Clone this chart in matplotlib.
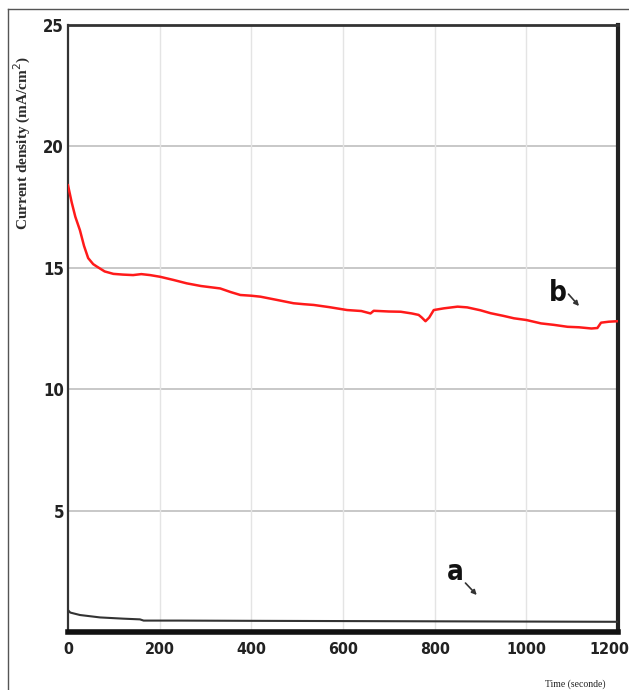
import matplotlib
matplotlib.use("Agg")
import matplotlib.pyplot as plt
import matplotlib.transforms as mtransforms
from matplotlib.lines import Line2D

# Chronoamperometry curves: time in seconds, current density in mA/cm2
b_time = [0, 8, 16, 26, 35, 44, 55, 63, 80, 99, 120, 142, 160, 179, 201, 230,
          259, 290, 332, 355, 376, 400, 420, 455, 492, 515, 536, 570, 609, 640,
          660, 667, 700, 726, 750, 765, 772, 780, 788, 798, 820, 850, 871, 900,
          922, 950, 973, 1000, 1032, 1060, 1090, 1115, 1142, 1155, 1163, 1180, 1199]
b_current = [18.4, 17.7, 17.1, 16.55, 15.9, 15.4, 15.15, 15.05, 14.85, 14.75,
             14.72, 14.70, 14.74, 14.70, 14.63, 14.5, 14.36, 14.25, 14.15, 14.0,
             13.88, 13.85, 13.81, 13.68, 13.54, 13.5, 13.47, 13.38, 13.26, 13.22,
             13.12, 13.23, 13.2, 13.19, 13.12, 13.06, 12.95, 12.8, 12.95, 13.26,
             13.33, 13.40, 13.37, 13.25, 13.13, 13.02, 12.92, 12.85, 12.71, 12.65,
             12.57, 12.55, 12.50, 12.52, 12.74, 12.78, 12.8]

a_time = [0, 5, 26, 70, 120, 157, 165, 240, 400, 600, 800, 1000, 1200]
a_current = [0.9, 0.8, 0.7, 0.6, 0.55, 0.52, 0.47, 0.47, 0.46, 0.45, 0.44, 0.43, 0.42]

x_ticks = [0, 200, 400, 600, 800, 1000, 1200]
y_ticks = [5, 10, 15, 20, 25]

tick_font = ["DejaVu Sans"]

fig = plt.figure(figsize=(6.29, 6.90), dpi=100)
ax = fig.add_axes([68 / 629, 1 - 632 / 690, 550 / 629, 607 / 690])

# grid first so the curves sit on top
for y in [5, 10, 15, 20]:
    ax.axhline(y, color="#c4c4c4", lw=1.3, zorder=0)
for x in [200, 400, 600, 800, 1000]:
    ax.axvline(x, color="#e4e4e4", lw=1.0, zorder=0)

ax.plot(b_time, b_current, color="#ff1a1a", lw=1.8, zorder=3)
ax.plot(a_time, a_current, color="#333333", lw=1.5, zorder=3)

ax.set_xlim(0, 1200)
ax.set_ylim(0, 25)
ax.set_xticks(x_ticks)
ax.set_yticks(y_ticks)
ax.tick_params(axis="both", length=0)
ax.tick_params(axis="y", pad=3)
ax.tick_params(axis="x", pad=7)
for lab in ax.get_xticklabels() + ax.get_yticklabels():
    lab.set_family(tick_font)
    lab.set_stretch("condensed")
    lab.set_fontsize(12)
    lab.set_fontweight("bold")
    lab.set_color("#222222")
for lab in ax.get_xticklabels():
    lab.set_fontsize(11.5)

# pull the last x label in a little so it stays on the canvas
last = ax.get_xticklabels()[-1]
last.set_transform(last.get_transform() +
                   mtransforms.ScaledTranslation(-9 / 100, 0, fig.dpi_scale_trans))

ax.spines["left"].set_linewidth(1.6)
ax.spines["left"].set_color("#333333")
ax.spines["top"].set_linewidth(2.0)
ax.spines["top"].set_color("#333333")
ax.spines["right"].set_linewidth(3.0)
ax.spines["right"].set_color("#222222")
ax.spines["bottom"].set_linewidth(4.0)
ax.spines["bottom"].set_color("#111111")

# curve labels with small arrows
ax.annotate("", xy=(1119, 13.34), xytext=(1088, 14.0),
            arrowprops=dict(arrowstyle="-|>", lw=1.2, color="#333333", mutation_scale=7))
ax.text(1069, 13.96, "b", family=tick_font, stretch="condensed", fontsize=20,
        fontweight="bold", ha="center", va="center", color="#111111")
ax.annotate("", xy=(896, 1.44), xytext=(863, 2.10),
            arrowprops=dict(arrowstyle="-|>", lw=1.2, color="#333333", mutation_scale=7))
ax.text(844, 2.47, "a", family=tick_font, stretch="condensed", fontsize=20,
        fontweight="bold", ha="center", va="center", color="#111111")

# axis titles
fig.text(22 / 629, 1 - 143 / 690, "Current density (mA/cm$^2$)", rotation=90,
         family="Liberation Serif", fontsize=11, fontweight="bold",
         ha="center", va="center", color="#2b2b2b")
fig.text(575 / 629, 1 - 684 / 690, "Time (seconde)", family="Liberation Serif",
         fontsize=7, ha="center", va="center", color="#222222")

# thin outer frame along top and left
fig.add_artist(Line2D([8 / 629, 1.0], [1 - 9 / 690, 1 - 9 / 690],
                      transform=fig.transFigure, color="#555555", lw=1.0))
fig.add_artist(Line2D([8 / 629, 8 / 629], [0.0, 1 - 9 / 690],
                      transform=fig.transFigure, color="#555555", lw=1.0))

fig.savefig("out.png", dpi=100)
